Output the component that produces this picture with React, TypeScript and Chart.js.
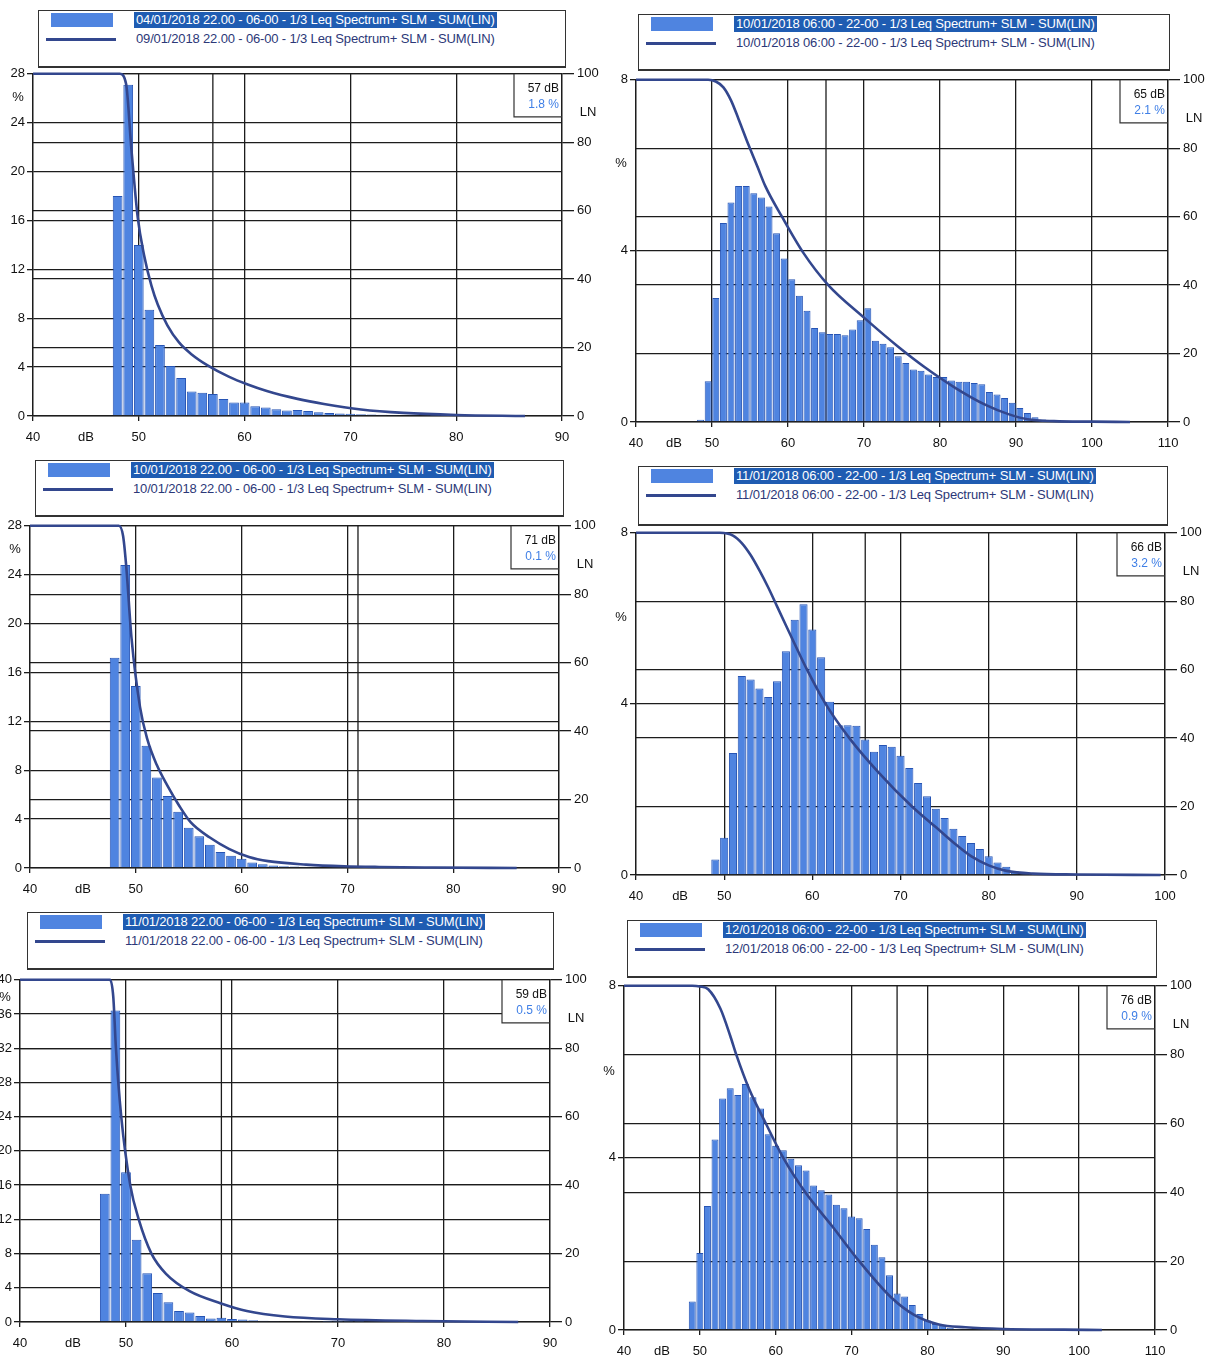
import React, { useEffect, useRef } from "react";
import { Chart, registerables } from "chart.js";

Chart.register(...registerables);

// ---------------- DATA ----------------
// Panel 1
const p1BarLabel = "04/01/2018 22.00 - 06-00 - 1/3 Leq Spectrum+ SLM - SUM(LIN)";
const p1LineLabel = "09/01/2018 22.00 - 06-00 - 1/3 Leq Spectrum+ SLM - SUM(LIN)";
const p1Db = [48, 49, 50, 51, 52, 53, 54, 55, 56, 57, 58, 59, 60, 61, 62, 63, 64, 65, 66, 67, 68, 69, 70, 71, 72, 73, 74, 75, 76, 77, 78, 79, 80];
const p1Pct = [18.0, 27.1, 14.0, 8.7, 5.8, 4.1, 3.1, 2.0, 1.9, 1.8, 1.4, 1.1, 1.1, 0.8, 0.7, 0.55, 0.45, 0.5, 0.4, 0.3, 0.25, 0.2, 0.18, 0.15, 0.12, 0.1, 0.08, 0.06, 0.05, 0.04, 0.03, 0.02, 0.02];
const p1LnDb = [40, 48.2, 48.8, 49.3, 49.9, 50.5, 51.2, 51.8, 52.7, 53.8, 55, 56.5, 58.5, 60.3, 62.1, 65, 67.5, 71, 75, 80, 86.5];
const p1Ln = [100, 100, 97, 78, 58, 47, 38, 32.5, 26.5, 21.5, 18, 14.8, 11.5, 9.2, 7.3, 5, 3.5, 1.9, 0.9, 0.3, 0];

// Panel 2
const p2BarLabel = "10/01/2018 06:00 - 22-00 - 1/3 Leq Spectrum+ SLM - SUM(LIN)";
const p2LineLabel = "10/01/2018 06:00 - 22-00 - 1/3 Leq Spectrum+ SLM - SUM(LIN)";
const p2Db = [48.5, 49.5, 50.5, 51.5, 52.5, 53.5, 54.5, 55.5, 56.5, 57.5, 58.5, 59.5, 60.5, 61.5, 62.5, 63.5, 64.5, 65.5, 66.5, 67.5, 68.5, 69.5, 70.5, 71.5, 72.5, 73.5, 74.5, 75.5, 76.5, 77.5, 78.5, 79.5, 80.5, 81.5, 82.5, 83.5, 84.5, 85.5, 86.5, 87.5, 88.5, 89.5, 90.5, 91.5, 92.5, 93.5, 94.5];
const p2Pct = [0.05, 0.95, 2.9, 4.65, 5.13, 5.52, 5.52, 5.35, 5.25, 5.04, 4.41, 3.82, 3.34, 2.95, 2.6, 2.2, 2.1, 2.06, 2.06, 2.03, 2.16, 2.38, 2.66, 1.9, 1.83, 1.75, 1.54, 1.38, 1.23, 1.2, 1.11, 1.05, 1.05, 0.97, 0.94, 0.94, 0.91, 0.88, 0.7, 0.64, 0.56, 0.45, 0.33, 0.21, 0.11, 0.06, 0.03];
const p2LnDb = [40, 49.5, 50.5, 51.5, 52.5, 53.5, 54.8, 56, 57, 59.2, 62, 65.3, 70, 74.5, 78, 82, 86, 89, 91.5, 95, 100, 105];
const p2Ln = [100, 100, 99.5, 97.8, 94, 88.5, 81, 74.5, 69, 60, 49.5, 40, 30.5, 22, 16, 10, 5, 2.3, 0.8, 0.25, 0.1, 0];

// Panel 3
const p3BarLabel = "10/01/2018 22.00 - 06-00 - 1/3 Leq Spectrum+ SLM - SUM(LIN)";
const p3LineLabel = "10/01/2018 22.00 - 06-00 - 1/3 Leq Spectrum+ SLM - SUM(LIN)";
const p3Db = [48, 49, 50, 51, 52, 53, 54, 55, 56, 57, 58, 59, 60, 61, 62, 63, 64, 65, 66, 67, 68, 69, 70, 71, 72, 73, 74];
const p3Pct = [17.2, 24.8, 14.9, 10.0, 7.4, 5.9, 4.6, 3.3, 2.6, 1.9, 1.3, 1.0, 0.75, 0.45, 0.3, 0.2, 0.15, 0.12, 0.1, 0.08, 0.06, 0.05, 0.04, 0.1, 0.03, 0.03, 0.02];
const p3LnDb = [40, 48.4, 48.8, 49.1, 49.6, 50.4, 51.1, 52, 53, 54.1, 55.2, 57, 58.8, 60.7, 62.5, 66.1, 69.7, 73, 78, 86];
const p3Ln = [100, 100, 97, 88, 67, 47, 37.5, 30, 24, 18.2, 13.3, 8.9, 5.6, 3.2, 2.0, 1.0, 0.5, 0.3, 0.15, 0];

// Panel 4
const p4BarLabel = "11/01/2018 06:00 - 22-00 - 1/3 Leq Spectrum+ SLM - SUM(LIN)";
const p4LineLabel = "11/01/2018 06:00 - 22-00 - 1/3 Leq Spectrum+ SLM - SUM(LIN)";
const p4Db = [48, 49, 50, 51, 52, 53, 54, 55, 56, 57, 58, 59, 60, 61, 62, 63, 64, 65, 66, 67, 68, 69, 70, 71, 72, 73, 74, 75, 76, 77, 78, 79, 80, 81, 82, 83, 84, 85, 86];
const p4Pct = [0.02, 0.36, 0.87, 2.85, 4.65, 4.57, 4.36, 4.16, 4.53, 5.23, 5.97, 6.33, 5.74, 5.09, 4.05, 3.5, 3.5, 3.49, 3.17, 2.88, 3.04, 3.0, 2.79, 2.5, 2.15, 1.84, 1.55, 1.33, 1.08, 0.91, 0.75, 0.61, 0.44, 0.29, 0.19, 0.08, 0.05, 0.03, 0.02];
const p4LnDb = [40, 49.5, 51, 52, 53, 54, 55, 56, 57, 58, 59.4, 61.5, 64.2, 67.5, 71.3, 74, 76, 78, 80, 82, 85, 90, 99.5];
const p4Ln = [100, 100, 99.2, 97, 93.5, 89, 84, 78.5, 73, 67.5, 60, 50, 40, 30, 20, 14, 9.5, 5.5, 2.8, 1.2, 0.4, 0.15, 0];

// Panel 5
const p5BarLabel = "11/01/2018 22.00 - 06-00 - 1/3 Leq Spectrum+ SLM - SUM(LIN)";
const p5LineLabel = "11/01/2018 22.00 - 06-00 - 1/3 Leq Spectrum+ SLM - SUM(LIN)";
const p5Db = [48, 49, 50, 51, 52, 53, 54, 55, 56, 57, 58, 59, 60, 61, 62, 63, 64, 65, 66, 67, 68, 69, 70, 71, 72];
const p5Pct = [15.0, 36.4, 17.5, 9.6, 5.7, 3.4, 2.3, 1.3, 1.1, 0.7, 0.4, 0.5, 0.35, 0.3, 0.2, 0.15, 0.12, 0.1, 0.08, 0.06, 0.05, 0.04, 0.03, 0.02, 0.02];
const p5LnDb = [40, 48.5, 48.8, 49.05, 49.55, 50.4, 51.2, 52.4, 53.8, 56, 58.9, 61.4, 65, 70, 78, 87];
const p5Ln = [100, 100, 95, 80, 60, 40, 30, 20, 14, 9, 5.5, 3.2, 1.6, 0.8, 0.3, 0];

// Panel 6
const p6BarLabel = "12/01/2018 06:00 - 22-00 - 1/3 Leq Spectrum+ SLM - SUM(LIN)";
const p6LineLabel = "12/01/2018 06:00 - 22-00 - 1/3 Leq Spectrum+ SLM - SUM(LIN)";
const p6Db = [49, 50, 51, 52, 53, 54, 55, 56, 57, 58, 59, 60, 61, 62, 63, 64, 65, 66, 67, 68, 69, 70, 71, 72, 73, 74, 75, 76, 77, 78, 79, 80, 81, 82, 83, 84];
const p6Pct = [0.66, 1.79, 2.88, 4.43, 5.38, 5.62, 5.46, 5.72, 5.41, 5.15, 4.55, 4.28, 4.18, 3.98, 3.83, 3.71, 3.36, 3.25, 3.15, 2.91, 2.83, 2.64, 2.6, 2.35, 1.98, 1.69, 1.27, 0.85, 0.78, 0.58, 0.37, 0.22, 0.14, 0.1, 0.05, 0.03];
const p6LnDb = [40, 49, 50, 51.1, 52.7, 54, 54.8, 56.5, 58.7, 61, 63.9, 67.5, 71, 75.2, 78.3, 81.5, 85, 90, 98, 103];
const p6Ln = [100, 100, 99.8, 99, 93.4, 85.5, 80, 70, 60, 50, 40, 30, 20, 9.5, 4.3, 1.6, 0.8, 0.3, 0.1, 0];

// Cursor readouts
const cursorDb = [57, 65, 71, 66, 59, 76];
const cursorPct = ["1.8", "2.1", "0.1", "3.2", "0.5", "0.9"];

// Axis ranges
const xMaxes = [90, 110, 90, 100, 90, 110];
const pctMaxes = [28, 8, 28, 8, 40, 8];
const pctTickStep = 4;
const lnMax = 100;
const lnTickStep = 20;

// ---------------- STYLE / LAYOUT ----------------
const BAR_FILL = "#4f84e0";
const BAR_EDGE = "#2654b4";
const LINE_COLOR = "#33478e";
const GRID = "#1c1c1c";
const FONT = "'Liberation Sans', Arial, sans-serif";

const layouts = [
  { legend: { x: 38, y: 10, w: 528, h: 58 }, plot: { L: 33, T: 73, R: 562, B: 416 }, pctOff: 24 },
  { legend: { x: 638, y: 14, w: 532, h: 57 }, plot: { L: 636, T: 79, R: 1168, B: 422 }, pctOff: 84 },
  { legend: { x: 35, y: 460, w: 529, h: 57 }, plot: { L: 30, T: 525, R: 559, B: 868 }, pctOff: 24 },
  { legend: { x: 638, y: 466, w: 530, h: 60 }, plot: { L: 636, T: 532, R: 1165, B: 875 }, pctOff: 85 },
  { legend: { x: 27, y: 912, w: 527, h: 58 }, plot: { L: 20, T: 979, R: 550, B: 1322 }, pctOff: 18 },
  { legend: { x: 627, y: 920, w: 530, h: 58 }, plot: { L: 624, T: 985, R: 1155, B: 1330 }, pctOff: 86 },
];

const panelsData = [
  { barLabel: p1BarLabel, lineLabel: p1LineLabel, db: p1Db, pct: p1Pct, lnDb: p1LnDb, ln: p1Ln },
  { barLabel: p2BarLabel, lineLabel: p2LineLabel, db: p2Db, pct: p2Pct, lnDb: p2LnDb, ln: p2Ln },
  { barLabel: p3BarLabel, lineLabel: p3LineLabel, db: p3Db, pct: p3Pct, lnDb: p3LnDb, ln: p3Ln },
  { barLabel: p4BarLabel, lineLabel: p4LineLabel, db: p4Db, pct: p4Pct, lnDb: p4LnDb, ln: p4Ln },
  { barLabel: p5BarLabel, lineLabel: p5LineLabel, db: p5Db, pct: p5Pct, lnDb: p5LnDb, ln: p5Ln },
  { barLabel: p6BarLabel, lineLabel: p6LineLabel, db: p6Db, pct: p6Pct, lnDb: p6LnDb, ln: p6Ln },
];

const LEFT_W_MAX = 36;
const RIGHT_W = 42;
const PAD_TOP = 10;
const BOTTOM_H = 34;

const extrasPlugin = {
  id: "extras",
  beforeDatasetsDraw(chart: any, _args: any, opts: any) {
    const { ctx, chartArea: a, scales } = chart;
    const x = scales.x.getPixelForValue(opts.cursorDb);
    ctx.save();
    ctx.strokeStyle = GRID;
    ctx.lineWidth = 1.3;
    ctx.beginPath();
    ctx.moveTo(x, a.top);
    ctx.lineTo(x, a.bottom);
    ctx.stroke();
    ctx.restore();
  },
  afterDraw(chart: any, _args: any, opts: any) {
    const { ctx, chartArea: a } = chart;
    ctx.save();
    // cursor box
    const bw = 48;
    const bh = 43;
    ctx.fillStyle = "#ffffff";
    ctx.fillRect(a.right - bw, a.top + 1, bw - 1, bh);
    ctx.strokeStyle = "#333";
    ctx.lineWidth = 1.2;
    ctx.beginPath();
    ctx.moveTo(a.right - bw, a.top);
    ctx.lineTo(a.right - bw, a.top + bh);
    ctx.lineTo(a.right, a.top + bh);
    ctx.stroke();
    ctx.textAlign = "right";
    ctx.textBaseline = "middle";
    ctx.font = `12px ${FONT}`;
    ctx.fillStyle = "#111";
    ctx.fillText(`${opts.cursorDb} dB`, a.right - 3, a.top + 15);
    ctx.fillStyle = "#3f7fe6";
    ctx.fillText(`${opts.cursorPct} %`, a.right - 3, a.top + 31);
    // axis unit labels
    ctx.textAlign = "center";
    ctx.fillStyle = "#111";
    ctx.font = `13px ${FONT}`;
    ctx.fillText("%", a.left - 15, a.top + opts.pctOff);
    ctx.fillText("LN", a.right + 26, a.top + 39);
    ctx.restore();
  },
};

function Panel({ idx }: { idx: number }) {
  const ref = useRef<HTMLCanvasElement | null>(null);
  const lay = layouts[idx];
  const d = panelsData[idx];
  const { L, T, R, B } = lay.plot;
  const leftW = Math.min(L, LEFT_W_MAX);
  const cw = leftW + (R - L) + RIGHT_W;
  const ch = PAD_TOP + (B - T) + BOTTOM_H;

  useEffect(() => {
    if (!ref.current) return;
    const tickFont = { family: FONT, size: 13 };
    const chart = new Chart(ref.current, {
      type: "bar",
      data: {
        datasets: [
          {
            type: "line",
            label: d.lineLabel,
            data: d.lnDb.map((x, i) => ({ x, y: d.ln[i] })),
            borderColor: LINE_COLOR,
            borderWidth: 2.6,
            pointRadius: 0,
            cubicInterpolationMode: "monotone",
            yAxisID: "y2",
            xAxisID: "x",
            order: 1,
            clip: 3,
          } as any,
          {
            type: "bar",
            label: d.barLabel,
            data: d.pct.map((y, i) => ({ x: d.db[i], y })),
            backgroundColor: BAR_FILL,
            borderColor: BAR_EDGE,
            borderWidth: 1,
            barPercentage: 0.92,
            categoryPercentage: 1,
            yAxisID: "y",
            xAxisID: "x",
            order: 2,
          } as any,
        ],
      },
      options: {
        animation: false,
        responsive: false,
        layout: { padding: { top: PAD_TOP, left: 0, right: 0, bottom: 0 } },
        plugins: {
          legend: { display: false },
          tooltip: { enabled: false },
          extras: { cursorDb: cursorDb[idx], cursorPct: cursorPct[idx], pctOff: lay.pctOff },
        } as any,
        scales: {
          x: {
            type: "linear",
            min: 40,
            max: xMaxes[idx],
            offset: false,
            ticks: {
              stepSize: 5,
              autoSkip: false,
              maxRotation: 0,
              padding: 9,
              color: "#111",
              font: tickFont,
              callback: (v: any) => (Number(v) % 10 === 0 ? String(v) : Number(v) === 45 ? "dB" : ""),
            },
            grid: {
              offset: false,
              color: (c: any) => (c.tick && Number(c.tick.value) % 10 === 0 ? GRID : "rgba(0,0,0,0)"),
              lineWidth: 1.3,
              tickLength: 5,
            },
            border: { display: true, color: GRID, width: 1.3 },
            afterFit: (s: any) => {
              s.height = BOTTOM_H;
            },
          },
          y: {
            type: "linear",
            position: "left",
            min: 0,
            max: pctMaxes[idx],
            ticks: { stepSize: pctTickStep, padding: 2, color: "#111", font: tickFont },
            grid: { color: GRID, lineWidth: 1.3, tickLength: 6 },
            border: { display: true, color: GRID, width: 1.3 },
            afterFit: (s: any) => {
              s.width = leftW;
            },
          },
          y2: {
            type: "linear",
            position: "right",
            min: 0,
            max: lnMax,
            ticks: { stepSize: lnTickStep, padding: 3, color: "#111", font: tickFont },
            grid: { color: GRID, lineWidth: 1.3, tickLength: 12, drawOnChartArea: true },
            border: { display: true, color: GRID, width: 1.3 },
            afterFit: (s: any) => {
              s.width = RIGHT_W;
            },
          },
        },
      } as any,
      plugins: [extrasPlugin as any],
    });
    return () => chart.destroy();
  }, []);

  const lg = lay.legend;
  const textStyle: React.CSSProperties = {
    position: "absolute",
    fontFamily: "'Liberation Sans', Arial, sans-serif",
    fontSize: 13,
    letterSpacing: "-0.15px",
    whiteSpace: "nowrap",
    lineHeight: "16px",
  };
  return (
    <>
      <canvas
        ref={ref}
        width={cw}
        height={ch}
        style={{ position: "absolute", left: L - leftW, top: T - PAD_TOP, width: cw, height: ch }}
      />
      <div
        style={{
          position: "absolute",
          left: lg.x,
          top: lg.y,
          width: lg.w,
          height: lg.h,
          boxSizing: "border-box",
          border: "1px solid #333",
          borderBottomWidth: 2,
          background: "#fff",
          zIndex: 2,
        }}
      >
        <div style={{ position: "absolute", left: 12, top: 2, width: 62, height: 14, background: BAR_FILL }} />
        <div style={{ ...textStyle, left: 95, top: 1, background: "#1f5cb2", color: "#fff", padding: "0 2px" }}>
          {d.barLabel}
        </div>
        <div style={{ position: "absolute", left: 7, top: 27, width: 70, height: 3, background: LINE_COLOR }} />
        <div style={{ ...textStyle, left: 97, top: 20, color: "#2c3878" }}>{d.lineLabel}</div>
      </div>
    </>
  );
}

export default function App() {
  return (
    <div
      style={{
        position: "absolute",
        left: 0,
        top: 0,
        width: 1211,
        height: 1365,
        overflow: "hidden",
        background: "#fff",
      }}
    >
      {layouts.map((_, i) => (
        <Panel key={i} idx={i} />
      ))}
    </div>
  );
}
